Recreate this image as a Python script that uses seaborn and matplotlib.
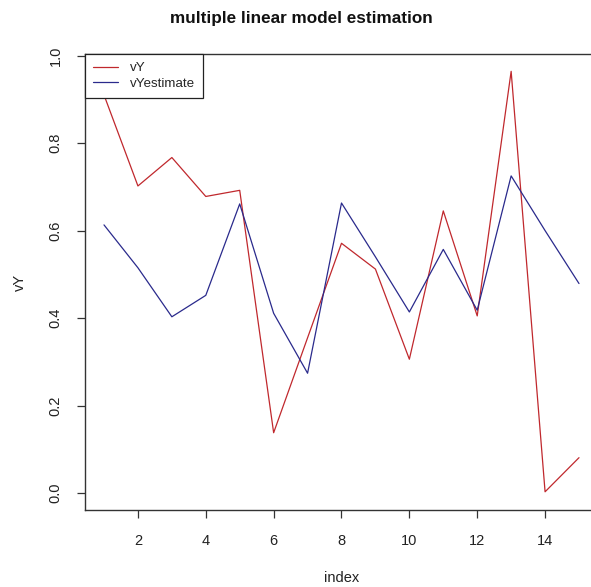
# multiple linear model estimation: observed vs estimated values

import pandas as pd
import numpy as np
import matplotlib
matplotlib.use("Agg")
import matplotlib.pyplot as plt
import seaborn as sns

# Data
index = list(range(1, 16))
vY = [0.91, 0.702, 0.767, 0.678, 0.692, 0.138, 0.355, 0.571, 0.512, 0.306,
      0.645, 0.405, 0.964, 0.003, 0.081]
vYestimate = [0.613, 0.515, 0.403, 0.452, 0.661, 0.411, 0.274, 0.663, 0.54, 0.414,
              0.557, 0.418, 0.725, 0.60, 0.479]
x_ticks = [2, 4, 6, 8, 10, 12, 14]
y_ticks = [0.0, 0.2, 0.4, 0.6, 0.8, 1.0]

df = pd.DataFrame({'index': index * 2,
                   'value': vY + vYestimate,
                   'series': ['vY'] * len(vY) + ['vYestimate'] * len(vYestimate)})

sns.set_style("white")
plt.rcParams['font.family'] = ['Liberation Sans', 'DejaVu Sans']

fig = plt.figure(figsize=(5.91, 5.87), dpi=100)
ax = fig.add_axes([85 / 591, 1 - 510 / 587, 513 / 591, 456 / 587])

sns.lineplot(data=df, x='index', y='value', hue='series',
             palette={'vY': '#c0282d', 'vYestimate': '#2a2a8c'},
             linewidth=0.9, ax=ax, legend=False)

ax.set_xlim(0.44, 15.56)
ax.set_ylim(-0.0386, 1.0036)
ax.set_xticks(x_ticks)
ax.set_yticks(y_ticks)
ax.set_yticklabels([f"{v:.1f}" for v in y_ticks])

for side in ['left', 'top', 'bottom', 'right']:
    ax.spines[side].set_color('#333333')
    ax.spines[side].set_linewidth(1.0)

ax.tick_params(axis='both', direction='out', length=6, width=0.9, color='#333333',
               labelsize=10.5, labelcolor='#222222', bottom=True, left=True)
ax.tick_params(axis='x', pad=11)
ax.tick_params(axis='y', pad=10, labelrotation=90)
for lab in ax.get_yticklabels():
    lab.set_va('center')

ax.set_xlabel('index', fontsize=10.5, color='#222222', labelpad=17)
ax.set_ylabel('vY', fontsize=10.5, color='#222222', labelpad=16)

# legend in the upper-left corner, R style
from matplotlib.lines import Line2D
handles = [Line2D([], [], color='#c0282d', lw=0.9),
           Line2D([], [], color='#2a2a8c', lw=0.9)]
leg = ax.legend(handles, ['vY', 'vYestimate'], loc='upper left', borderaxespad=0,
                fontsize=9.6, fancybox=False, framealpha=1, edgecolor='#222222',
                handlelength=1.9, handletextpad=0.9, borderpad=0.6, labelspacing=0.25)
leg.get_frame().set_linewidth(0.9)

fig.text(301 / 591, 1 - 18 / 587, 'multiple linear model estimation',
         ha='center', va='center', fontsize=12.3, fontweight='bold', color='#111111')

fig.savefig('out.png', dpi=100)
